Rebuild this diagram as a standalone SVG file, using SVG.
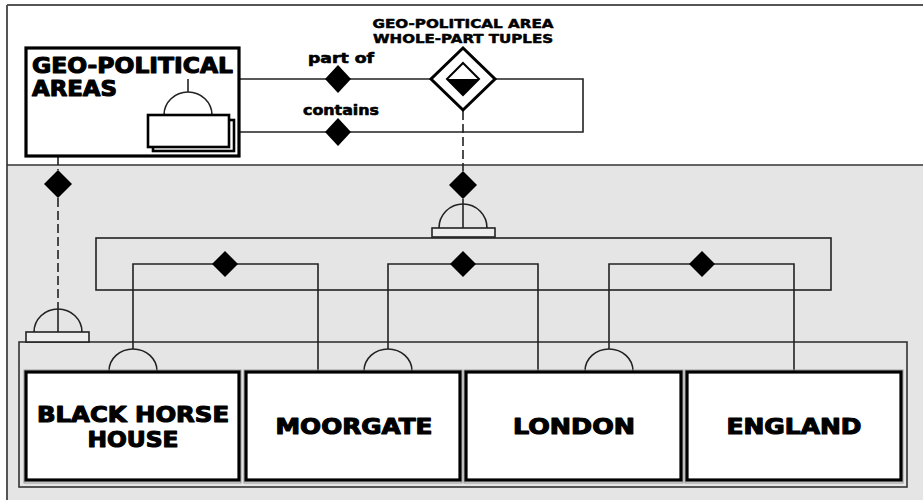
<svg xmlns="http://www.w3.org/2000/svg" width="923" height="500" viewBox="0 0 923 500">
  <style>
    .ln { fill: none; stroke: #222; stroke-width: 1.6; }
    .dash { fill: none; stroke: #222; stroke-width: 1.6; stroke-dasharray: 9 4; }
    .dia { fill: #000; stroke: none; }
    .node { fill: #fff; stroke: #000; stroke-width: 3.2; }
    .halo { fill: none; stroke: #9a9a9a; stroke-width: 1; }
    .big { font-family: "DejaVu Sans", "Liberation Sans", sans-serif; font-weight: bold; font-size: 21px; fill: #000; stroke: #000; stroke-width: 1.1; stroke-linejoin: round; }
    .small { font-family: "DejaVu Sans", "Liberation Sans", sans-serif; font-weight: bold; font-size: 12px; fill: #000; stroke: #000; stroke-width: 0.5; stroke-linejoin: round; }
    .rel { font-family: "DejaVu Sans", "Liberation Sans", sans-serif; font-weight: bold; font-size: 14px; fill: #000; stroke: #000; stroke-width: 0.6; stroke-linejoin: round; }
    .arc { fill: none; stroke: #222; stroke-width: 1.6; }
    .base { fill: #ededed; stroke: #222; stroke-width: 1.6; }
  </style>

  <!-- page background and frames -->
  <rect x="0" y="0" width="923" height="500" fill="#fff"/>
  <rect x="7" y="165" width="916" height="335" fill="#e5e5e5"/>
  <line x1="7" y1="5" x2="923" y2="5" stroke="#555" stroke-width="2"/>
  <line x1="7" y1="5" x2="7" y2="500" stroke="#555" stroke-width="2"/>
  <line x1="7" y1="165" x2="923" y2="165" stroke="#333" stroke-width="1.6"/>
  <rect x="19" y="342" width="888" height="145" fill="none" stroke="#333" stroke-width="1.6"/>

  <g id="connectors">
    <!-- whole-part relation lines -->
    <path class="ln" d="M188 79 H583 V132 H234"/>
    <polygon class="dia" points="338,65 351,79 338,93 325,79"/>
    <polygon class="dia" points="338,118 351,132 338,146 325,132"/>
    <text class="rel" x="308" y="63" textLength="66" lengthAdjust="spacingAndGlyphs">part of</text>
    <text class="rel" x="303" y="115" textLength="76" lengthAdjust="spacingAndGlyphs">contains</text>

    <!-- class membership of the tuples -->
    <line class="dash" x1="463" y1="111" x2="463" y2="171"/>
    <polygon class="dia" points="463,171 477,185 463,199 449,185"/>
    <line class="ln" x1="463" y1="199" x2="463" y2="228"/>
    <path class="arc" d="M439 228 A24 24 0 0 1 487 228"/>
    <rect class="base" x="432" y="228" width="63" height="9"/>
    <rect class="ln" x="96" y="238" width="735" height="52"/>

    <!-- class membership of the areas -->
    <line class="dash" x1="58" y1="156" x2="58" y2="170"/>
    <polygon class="dia" points="58,170 72,184 58,198 44,184"/>
    <line class="dash" x1="58" y1="198" x2="58" y2="309"/>
    <line class="ln" x1="58" y1="309" x2="58" y2="332"/>
    <path class="arc" d="M34 332 A24 23 0 0 1 82 332"/>
    <rect class="base" x="26" y="332" width="63" height="10"/>

    <!-- individual whole-part tuples -->
    <path class="ln" d="M133 349 V264 H318 V371"/>
    <polygon class="dia" points="225,251 238,264 225,277 212,264"/>
    <path class="ln" d="M388 349 V264 H538 V371"/>
    <polygon class="dia" points="463,251 476,264 463,277 450,264"/>
    <path class="ln" d="M609 349 V264 H794 V371"/>
    <polygon class="dia" points="702,251 715,264 702,277 689,264"/>
    <path class="arc" d="M109 371 A24 22 0 0 1 157 371"/>
    <path class="arc" d="M364 371 A24 22 0 0 1 412 371"/>
    <path class="arc" d="M585 371 A24 22 0 0 1 633 371"/>
  </g>

  <g id="geo-political-areas">
    <rect class="node" x="26" y="48" width="213" height="108"/>
    <text class="big" x="32" y="73" textLength="201" lengthAdjust="spacingAndGlyphs">GEO-POLITICAL</text>
    <text class="big" x="32" y="96" textLength="85" lengthAdjust="spacingAndGlyphs">AREAS</text>
    <path class="arc" d="M164 115 A24 23 0 0 1 212 115"/>
    <line class="ln" x1="188" y1="79" x2="188" y2="92"/>
    <rect x="153" y="120" width="81" height="31" fill="#fff" stroke="#000" stroke-width="2.6"/>
    <rect x="148" y="115" width="81" height="32" fill="#fff" stroke="#000" stroke-width="2.6"/>
  </g>

  <g id="whole-part-tuples">
    <text class="small" x="463" y="28" text-anchor="middle" textLength="181" lengthAdjust="spacingAndGlyphs">GEO-POLITICAL AREA</text>
    <text class="small" x="463" y="43" text-anchor="middle" textLength="180" lengthAdjust="spacingAndGlyphs">WHOLE-PART TUPLES</text>
    <polygon points="463,48 495,79 463,110 431,79" fill="#fff" stroke="#000" stroke-width="3"/>
    <polygon points="463,63 479,79 463,95 447,79" fill="#fff" stroke="#000" stroke-width="2"/>
    <polygon points="447,79 479,79 463,95" fill="#000"/>
  </g>

  <g id="black-horse-house">
    <rect class="halo" x="24" y="370" width="217" height="113"/>
    <rect class="node" x="26" y="372" width="213" height="108"/>
    <text class="big" x="133" y="422" text-anchor="middle" textLength="192" lengthAdjust="spacingAndGlyphs">BLACK HORSE</text>
    <text class="big" x="133" y="447" text-anchor="middle" textLength="91" lengthAdjust="spacingAndGlyphs">HOUSE</text>
  </g>

  <g id="moorgate">
    <rect class="halo" x="244" y="370" width="218" height="113"/>
    <rect class="node" x="246" y="372" width="214" height="108"/>
    <text class="big" x="354" y="434" text-anchor="middle" textLength="157" lengthAdjust="spacingAndGlyphs">MOORGATE</text>
  </g>

  <g id="london">
    <rect class="halo" x="464" y="370" width="219" height="113"/>
    <rect class="node" x="466" y="372" width="215" height="108"/>
    <text class="big" x="574" y="434" text-anchor="middle" textLength="122" lengthAdjust="spacingAndGlyphs">LONDON</text>
  </g>

  <g id="england">
    <rect class="halo" x="685" y="370" width="218" height="113"/>
    <rect class="node" x="687" y="372" width="214" height="108"/>
    <text class="big" x="794" y="434" text-anchor="middle" textLength="135" lengthAdjust="spacingAndGlyphs">ENGLAND</text>
  </g>
</svg>
